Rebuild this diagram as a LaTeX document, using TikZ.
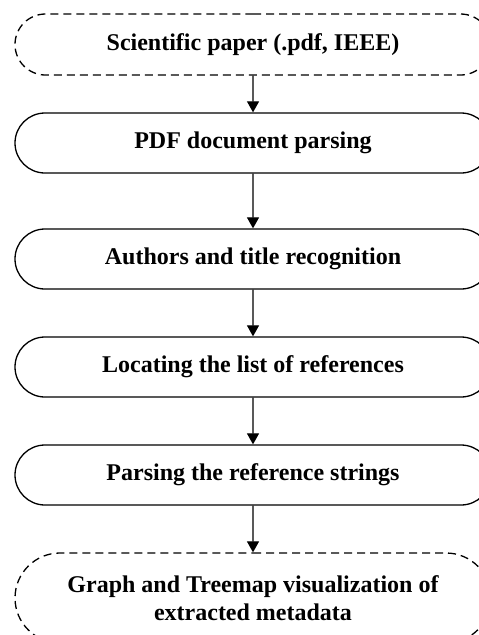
\documentclass[tikz,border=0pt]{standalone}
\usepackage{fontspec}
\setmainfont{Liberation Serif}
\usetikzlibrary{shapes.misc,arrows.meta}
\begin{document}
\begin{tikzpicture}[x=1pt,y=-1pt,
  stage/.style={rounded rectangle, draw, line width=1.3pt, minimum width=476pt, minimum height=60pt,
    font=\fontsize{24}{28}\selectfont\bfseries, align=center, inner sep=0pt},
  terminal/.style={stage, dashed, dash pattern=on 8pt off 5pt},
  flow/.style={line width=1.2pt, -{Triangle[width=12pt,length=11pt]}}]
\useasboundingbox (0,0) rectangle (479,635);
\clip (0,0) rectangle (479,635);
\node[terminal, minimum height=61pt] (s1) at (253,44.5) {Scientific paper (.pdf, IEEE)};
\node[stage] (s2) at (253,143) {PDF document parsing};
\node[stage] (s3) at (253,259) {Authors and title recognition};
\node[stage] (s4) at (253,367) {Locating the list of references};
\node[stage] (s5) at (253,475) {Parsing the reference strings};
\node[terminal, minimum height=90pt] (s6) at (253,598) {Graph and Treemap visualization of\\extracted metadata};
\draw[flow] (s1) -- (s2);
\draw[flow] (s2) -- (s3);
\draw[flow] (s3) -- (s4);
\draw[flow] (s4) -- (s5);
\draw[flow] (s5) -- (s6);
\end{tikzpicture}
\end{document}
